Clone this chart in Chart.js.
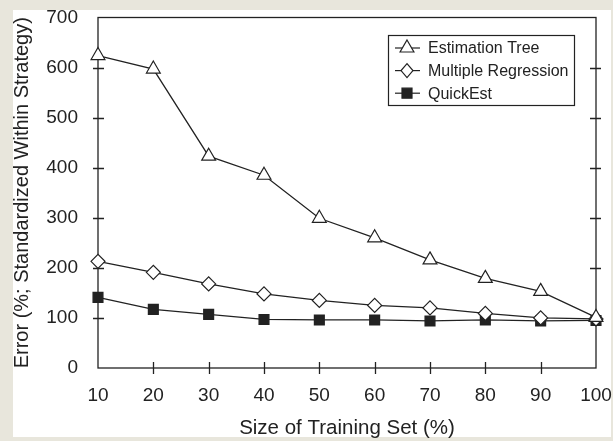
<!DOCTYPE html>
<html>
<head>
<meta charset="utf-8">
<script src="https://cdn.jsdelivr.net/npm/chart.js@4/dist/chart.umd.min.js"></script>
<style>
  html, body { margin: 0; padding: 0; background: #e8e6dc; }
  #panel { position: absolute; left: 13px; top: 10px; width: 598px; height: 427px; background: #fff; }
  #wrap { position: absolute; left: 0; top: 0; width: 613px; height: 441px; }
</style>
</head>
<body>
<div id="panel"></div>
<div id="wrap"><canvas id="canvas" width="613" height="441"></canvas></div>
<script>
const sizes = ['10', '20', '30', '40', '50', '60', '70', '80', '90', '100'];
const estimationTree = [624, 597, 423, 385, 299, 260, 216, 179, 153, 101];
const multipleRegression = [213, 191, 168, 148, 135, 125, 120, 109, 100, 98];
const quickEst = [141, 117, 107, 97, 96, 96, 94, 96, 94, 95];
const yTicks = [0, 100, 200, 300, 400, 500, 600, 700];

const FONT = '"Liberation Sans", Arial, sans-serif';
const INK = '#222';

function marker(ctx, style, x, y) {
  ctx.save();
  ctx.lineWidth = 1.2;
  ctx.strokeStyle = INK;
  ctx.beginPath();
  if (style === 'triangle') {
    const r = 8;
    ctx.moveTo(x, y - r);
    ctx.lineTo(x + r * 0.866, y + r * 0.5);
    ctx.lineTo(x - r * 0.866, y + r * 0.5);
    ctx.closePath();
    ctx.fillStyle = '#fff';
  } else if (style === 'rectRot') {
    const r = 7;
    ctx.moveTo(x, y - r);
    ctx.lineTo(x + r * 0.85, y);
    ctx.lineTo(x, y + r);
    ctx.lineTo(x - r * 0.85, y);
    ctx.closePath();
    ctx.fillStyle = '#fff';
  } else {
    ctx.rect(x - 5, y - 5, 10, 10);
    ctx.fillStyle = INK;
  }
  ctx.fill();
  ctx.stroke();
  ctx.restore();
}

// frame, crossing tick marks and the boxed legend
const framePlugin = {
  id: 'frame',
  beforeDatasetsDraw(chart) {
    const ctx = chart.ctx;
    const a = chart.chartArea;
    const xs = chart.scales.x;
    const ys = chart.scales.y;
    ctx.save();
    ctx.strokeStyle = INK;
    ctx.lineWidth = 1.3;
    ctx.strokeRect(a.left, a.top, a.right - a.left, a.bottom - a.top);
    ctx.beginPath();
    yTicks.forEach(v => {
      if (v === 0 || v === 700) return;
      const py = Math.round(ys.getPixelForValue(v)) + 0.5;
      ctx.moveTo(a.left - 5, py); ctx.lineTo(a.left + 6, py);
      ctx.moveTo(a.right - 6, py); ctx.lineTo(a.right + 5, py);
    });
    sizes.forEach((s, i) => {
      if (i === 0 || i === sizes.length - 1) return;
      const px = Math.round(xs.getPixelForValue(i)) + 0.5;
      ctx.moveTo(px, a.bottom - 6); ctx.lineTo(px, a.bottom + 6);
    });
    ctx.stroke();
    ctx.restore();
  },
  afterDraw(chart) {
    const ctx = chart.ctx;
    const items = [
      ['Estimation Tree', 'triangle'],
      ['Multiple Regression', 'rectRot'],
      ['QuickEst', 'rect']
    ];
    ctx.save();
    ctx.fillStyle = '#fff';
    ctx.fillRect(388, 35, 186, 70);
    ctx.strokeStyle = INK;
    ctx.lineWidth = 1.2;
    ctx.strokeRect(388.5, 35.5, 186, 70);
    ctx.font = '16px ' + FONT;
    ctx.textBaseline = 'middle';
    items.forEach((it, i) => {
      const y = 48 + i * 22.6;
      ctx.beginPath();
      ctx.moveTo(395, y); ctx.lineTo(420, y);
      ctx.stroke();
      marker(ctx, it[1], 407, y);
      ctx.fillStyle = INK;
      ctx.fillText(it[0], 428, y + 1);
    });
    ctx.restore();
  }
};

function series(label, data, style) {
  return {
    label: label,
    data: data,
    borderColor: INK,
    borderWidth: 1.3,
    pointStyle: style,
    pointRadius: style === 'triangle' ? 8 : 7,
    pointBorderWidth: 1.2,
    pointBorderColor: INK,
    pointBackgroundColor: style === 'rect' ? INK : '#fff',
    tension: 0
  };
}

function noOverflow(s) {
  s.paddingLeft = 0;
  s.paddingRight = 0;
  s.paddingTop = 0;
  s.paddingBottom = 0;
}

new Chart(document.getElementById('canvas'), {
  type: 'line',
  data: {
    labels: sizes,
    datasets: [
      series('Estimation Tree', estimationTree, 'triangle'),
      series('Multiple Regression', multipleRegression, 'rectRot'),
      series('QuickEst', quickEst, 'rect')
    ]
  },
  options: {
    responsive: false,
    animation: false,
    layout: { padding: { left: 0, right: 17, top: 17.5, bottom: 0 } },
    plugins: { legend: { display: false }, tooltip: { enabled: false } },
    scales: {
      x: {
        grid: { display: false },
        border: { display: false },
        ticks: { color: INK, font: { family: FONT, size: 19 }, padding: 8, maxRotation: 0, autoSkip: false },
        title: { display: true, text: 'Size of Training Set (%)', color: INK, font: { family: FONT, size: 20.5 }, padding: { top: 0, bottom: 0 } },
        afterFit: s => { s.height = 73; noOverflow(s); }
      },
      y: {
        min: 0,
        max: 700,
        grid: { display: false },
        border: { display: false },
        ticks: { stepSize: 100, color: INK, font: { family: FONT, size: 19 }, padding: 12 },
        title: { display: true, text: 'Error (%; Standardized Within Strategy)', color: INK, font: { family: FONT, size: 20 }, padding: { top: 10, bottom: 0 } },
        afterFit: s => { s.width = 98; noOverflow(s); }
      }
    }
  },
  plugins: [framePlugin]
});
</script>
</body>
</html>
